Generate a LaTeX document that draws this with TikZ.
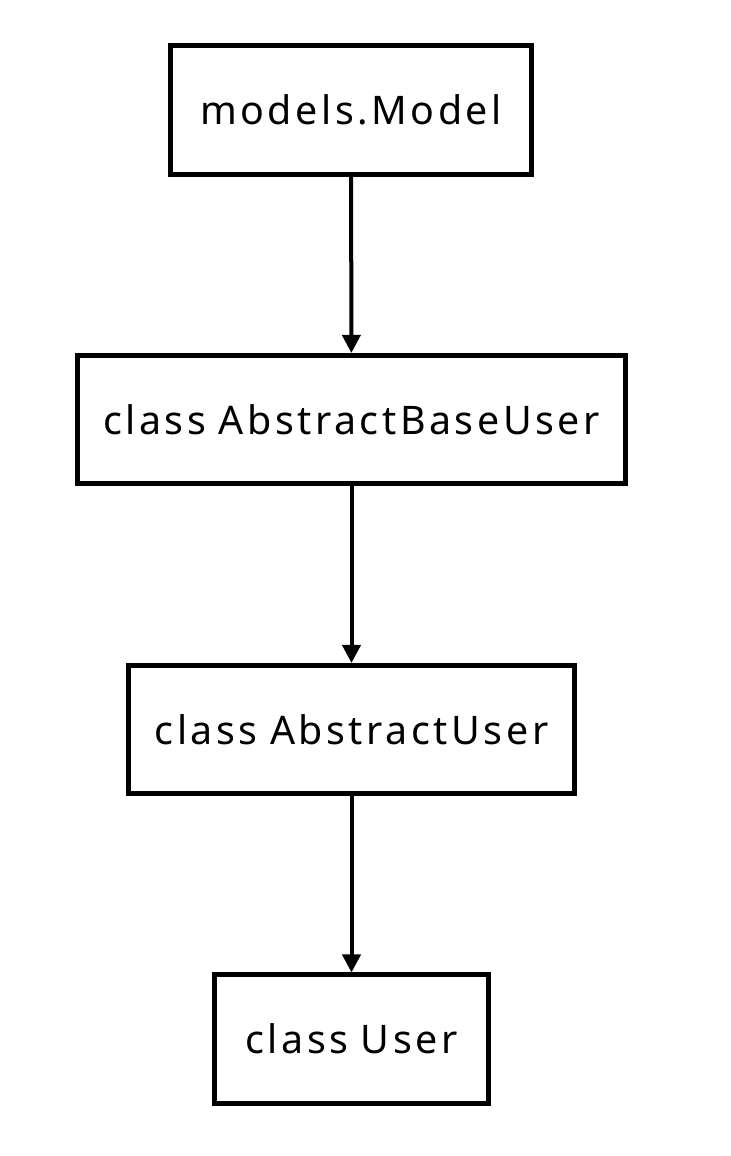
\documentclass[tikz,border=0pt]{standalone}
\usepackage{fontspec}
\setmainfont[LetterSpace=9, WordSpace=0.9]{Noto Sans}
\usetikzlibrary{positioning,arrows.meta}
\tikzset{
  classbox/.style={draw, line width=0.125cm, minimum height=3.2cm, inner sep=0pt,
    font=\fontsize{28}{33}\selectfont},
  inherits/.style={-{Triangle[width=0.45cm,length=0.45cm]}, line width=0.1cm}
}

\begin{document}
\begin{tikzpicture}[x=0.025cm, y=-0.025cm]
   \useasboundingbox (0,0) rectangle (730,1156);
   \node[classbox, minimum width=9.025cm] (model) at (351,110) {models.Model};
   \node[classbox, minimum width=13.7cm] (baseuser) at (351.5,419.5) {class AbstractBaseUser};
   \node[classbox, minimum width=11.15cm] (abstractuser) at (351.5,729.5) {class AbstractUser};
   \node[classbox, minimum width=6.85cm] (user) at (351.5,1039) {class User};
   \draw[inherits] (model) -- (baseuser);
   \draw[inherits] (baseuser) -- (abstractuser);
   \draw[inherits] (abstractuser) -- (user);
\end{tikzpicture}
\end{document}
